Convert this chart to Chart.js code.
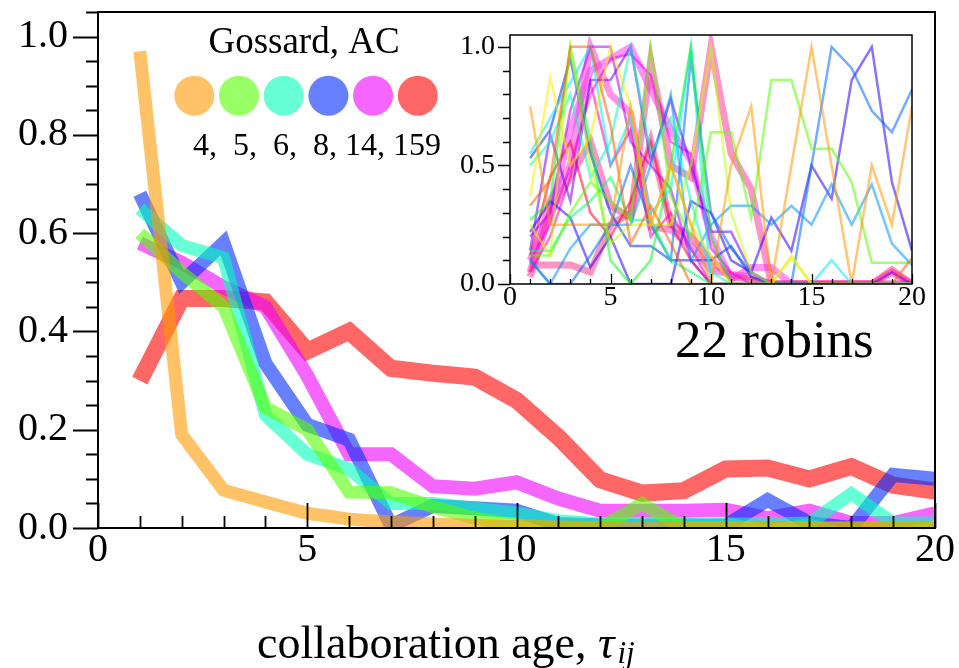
<!DOCTYPE html>
<html>
<head>
<meta charset="utf-8">
<script src="https://cdn.jsdelivr.net/npm/chart.js@4.4.1/dist/chart.umd.min.js"></script>
<style>
  html, body { margin: 0; padding: 0; background: #fff; }
  #wrap { position: relative; width: 959px; height: 668px; overflow: hidden; }
  #main { position: absolute; left: 0; top: 0; }
  #inset { position: absolute; left: 440px; top: 20px; }
</style>
</head>
<body>
<div id="wrap">
  <canvas id="main" width="959" height="668"></canvas>
  <canvas id="inset" width="490" height="300"></canvas>
</div>
<script>
// ---- main panel: share of collaborations by age, Gossard AC groups ----
const ages = [1,2,3,4,5,6,7,8,9,10,11,12,13,14,15,16,17,18,19,20];
const groupSizes = ['4', '5', '6', '8', '14', '159'];
const share4   = [0.97,0.19,0.077,0.053,0.03,0.018,0.012,0.008,0.005,0.003,0.002,0.001,0,0,0,0,0,0,0,0];
const share5   = [0.60,0.52,0.45,0.245,0.20,0.073,0.072,0.043,0.02,0.006,0,0,0.05,0,0,0,0,0,0,0];
const share6   = [0.65,0.575,0.55,0.23,0.15,0.12,0.05,0.05,0.04,0.03,0.015,0.008,0.008,0.008,0.008,0.008,0.01,0.07,0.01,0.01];
const share8   = [0.68,0.50,0.58,0.335,0.21,0.18,0.005,0.045,0.04,0.035,0.008,0.005,0.005,0.005,0.005,0.057,0.01,0,0.108,0.10];
const share14  = [0.58,0.54,0.49,0.45,0.31,0.15,0.15,0.085,0.08,0.093,0.06,0.035,0.035,0.035,0.037,0.02,0.035,0.01,0.01,0.03];
const share159 = [0.30,0.467,0.467,0.46,0.36,0.40,0.325,0.315,0.307,0.26,0.185,0.098,0.071,0.076,0.12,0.122,0.10,0.125,0.087,0.075];
const mainXTicks = [0, 5, 10, 15, 20];
const mainYTicks = [0, 0.2, 0.4, 0.6, 0.8, 1.0];
const legendTitle = 'Gossard, AC';
const legendCaption = '4,  5,  6,  8, 14, 159';
const robinCount = '22 robins';
const axisTitle = 'collaboration age, ';

// ---- inset: one line per robin ----
const r01 = [0.75,0.25,0.25,0.25,0.25,0.75,0.25,0.5,0.25,0,0.5,0.75,0,0.5,1,0.5,0,0.5,0.25,0.75];
const r02 = [0.33,0.44,1,1,0.67,0.17,0.33,0.17,0,0,0,0,0,0,0,0,0,0,0,0.11];
const r03 = [0.37,0.87,0.5,0.62,1,0.75,0.25,0.5,0.25,0.12,0,0,0,0.12,0,0,0,0,0,0];
const r04 = [0.25,0.12,1,0.5,0.17,0.25,0.25,0.25,0.5,1,0.3,0.05,0,0.11,0,0,0,0,0,0];
const r05 = [0.12,0.12,0.3,0.43,0.35,0.27,1,0.37,0.2,0.64,0.64,0.28,0.86,0.86,0.57,0.57,0.43,0.09,0.09,0.09];
const r06 = [0.27,0.35,1,0.6,0.1,0,0.1,0.5,1,0.2,0,0,0,0,0,0,0,0,0,0];
const r07 = [0.14,0.14,0.28,0.35,0.45,0.27,0.27,0.1,0.05,0,0,0,0,0,0,0,0,0,0,0];
const r08 = [0.5,0.6,0.8,0.45,0.6,1,0.55,0.7,0.35,0.05,0,0,0,0,0,0,0,0,0,0];
const r09 = [0.55,0.7,0.85,1,0.5,0.7,0.3,0.4,1,0,0,0,0,0,0,0.1,0,0,0,0];
const r10 = [0.1,0,0.15,0.25,0.25,0.25,0.5,0.8,0.1,0.25,0.33,0.33,0.25,0.33,0.25,0.42,0.25,0.42,0.17,0.08];
const r11 = [0.1,0,0,0.12,0.25,0.5,0.25,0.1,0.95,0.3,0.15,0.05,0,0,0.5,1,0.91,0.73,0.64,0.82];
const r12 = [0.53,0.65,0.95,0.55,0.3,0.16,0.16,0.1,0.1,0.1,0.16,0.03,0,0,0,0,0,0,0,0];
const r13 = [0.22,0.35,0.28,0.07,0.2,0,0,0,0.35,0.3,0.1,0.05,0.28,0.14,0.5,0.36,0.86,1,0.43,0.14];
const r14 = [0.14,0.63,0.35,0.86,0.86,1,0.52,0.78,0.5,0.22,0.22,0.05,0,0,0,0,0,0,0.05,0];
const r15 = [0.2,0.3,0.73,1,1,0.6,0.5,0.4,0.1,0,0,0,0,0,0,0,0,0,0,0];
const r16 = [0.1,0.25,0.5,0.8,0.95,0.97,0.88,0.6,0.55,0.15,0.05,0,0,0,0,0,0,0,0,0];
const r17 = [0.05,0.2,0.45,0.85,0.5,0.65,0.2,0.3,0.15,0,0,0,0,0,0,0,0,0,0,0];
const r18 = [0.12,0.45,0.6,0.3,0.2,0.35,0.6,0.25,0.1,0,0,0,0,0,0,0,0,0,0,0];
const r19 = [0.08,0.08,0.08,0.05,0.25,0.3,0.6,0.25,0.2,0.1,0.03,0.02,0,0,0,0,0,0,0.06,0];
const r20 = [0.03,0.3,0.45,0.6,0.33,0.28,0.94,0.5,0.45,1,0.55,0.4,0,0,0,0,0,0,0.05,0];
const r21 = [0.1,0.3,0.65,0.9,0.95,1,0.82,0.65,0.52,0.2,0.02,0.07,0.07,0,0,0,0,0,0,0];
const r22 = [0.05,0.35,0.5,1,0.8,0.72,0.24,0.23,0.16,0.06,0.04,0.03,0,0,0,0,0,0,0,0];
const insetXTicks = [0, 5, 10, 15, 20];
const insetYTicks = [0, 0.5, 1.0];

const robins = [r01,r02,r03,r04,r05,r06,r07,r08,r09,r10,r11,r12,r13,r14,r15,r16,r17,r18,r19,r20,r21,r22];
// line styling for the inset (hue in degrees, line width)
const robinHue   = [36, 22, 55, 75, 100, 125, 145, 165, 185, 205, 215, 228, 250, 268, 282, 295, 320, 350, 335, 330, 300, 315];
const robinWidth = [2.5,2.5,2.5,2.5,2.5,2.5,2.5,2.5,2.5,2.5,2.5,2.5,2.5,2.5,2.5,2.5,2.5,2.5, 7, 7, 7, 7];

const SERIF = "'Liberation Serif', 'Times New Roman', serif";
const groupColors = [
  'rgba(255,153,0,0.6)', 'rgba(85,255,0,0.6)', 'rgba(0,255,187,0.6)',
  'rgba(0,43,255,0.6)', 'rgba(238,0,255,0.6)', 'rgba(255,0,0,0.6)'
];
const groupWidths = [13, 13, 13, 14, 14, 17];
const groupShares = [share4, share5, share6, share8, share14, share159];

const toPoints = arr => arr.map((v, i) => ({ x: ages[i], y: v }));

// fixed axis box sizes, no extra room reserved for overhanging labels
const fixBox = size => s => {
  if (s.isHorizontal()) s.height = size; else s.width = size;
  s.paddingTop = 0; s.paddingBottom = 0; s.paddingLeft = 0; s.paddingRight = 0;
};

// frame plus hand-placed tick marks (outward on y, inward on x)
const axisFrame = {
  id: 'axisFrame',
  afterDatasetsDraw(chart, args, o) {
    const { ctx, chartArea: a, scales: { x, y } } = chart;
    ctx.save();
    ctx.strokeStyle = '#000';
    ctx.lineWidth = o.tickWidth;
    ctx.beginPath();
    const ny = Math.round(y.max / o.yMinor);
    for (let k = 0; k <= ny; k++) {
      const v = k * o.yMinor;
      if (v > y.max + 1e-9) break;
      const major = Math.abs(v / o.yMajor - Math.round(v / o.yMajor)) < 1e-6;
      const py = Math.round(y.getPixelForValue(v)) + 0.5;
      ctx.moveTo(a.left - (major ? o.yMajorLen : o.yMinorLen), py);
      ctx.lineTo(a.left, py);
    }
    for (let v = x.min; v <= x.max; v += o.xMinor) {
      const major = v % o.xMajor === 0;
      const px = Math.round(x.getPixelForValue(v)) + 0.5;
      ctx.moveTo(px, a.bottom);
      ctx.lineTo(px, a.bottom - (major ? o.xMajorLen : o.xMinorLen));
    }
    ctx.stroke();
    ctx.lineWidth = o.frameWidth;
    ctx.strokeRect(a.left, a.top, a.right - a.left, a.bottom - a.top);
    ctx.restore();
  }
};

// group legend, robin count and axis title of the main panel
const mainDecor = {
  id: 'mainDecor',
  afterDraw(chart) {
    const ctx = chart.ctx;
    ctx.save();
    ctx.fillStyle = '#000';
    ctx.textBaseline = 'alphabetic';
    ctx.textAlign = 'center';
    ctx.font = '37px ' + SERIF;
    ctx.fillText(legendTitle, 304, 53);
    groupColors.forEach((c, i) => {
      ctx.beginPath();
      ctx.arc(194.3 + 44.7 * i, 95.7, 20, 0, Math.PI * 2);
      ctx.fillStyle = c;
      ctx.fill();
    });
    ctx.fillStyle = '#000';
    ctx.textAlign = 'left';
    ctx.font = '32px ' + SERIF;
    ctx.fillText(legendCaption, 193, 155);
    ctx.font = '53px ' + SERIF;
    ctx.fillText(robinCount, 675, 357);
    // x-axis title with italic tau and subscript
    let tx = 257;
    ctx.font = '46px ' + SERIF;
    ctx.fillText(axisTitle, tx, 658);
    tx += ctx.measureText(axisTitle).width;
    ctx.font = 'italic 46px ' + SERIF;
    ctx.fillText('τ', tx, 658);
    tx += ctx.measureText('τ').width;
    ctx.font = 'italic 31px ' + SERIF;
    ctx.fillText('ij', tx + 3, 663);
    ctx.restore();
  }
};

new Chart(document.getElementById('main'), {
  type: 'line',
  data: {
    datasets: groupShares.map((s, i) => ({
      label: groupSizes[i],
      data: toPoints(s),
      borderColor: groupColors[i],
      borderWidth: groupWidths[i],
      pointRadius: 0,
      tension: 0,
      fill: false,
      clip: 0
    }))
  },
  options: {
    responsive: false,
    animation: false,
    devicePixelRatio: 1,
    events: [],
    layout: { padding: { left: 0, top: 12, right: 24, bottom: 0 } },
    plugins: {
      legend: { display: false }, tooltip: { enabled: false },
      axisFrame: { frameWidth: 2, tickWidth: 1.8, yMinor: 0.05, yMajor: 0.2, yMajorLen: 25, yMinorLen: 12,
                   xMinor: 1, xMajor: 5, xMajorLen: 25, xMinorLen: 12 }
    },
    scales: {
      x: {
        type: 'linear', min: 0, max: 20,
        afterBuildTicks: s => { s.ticks = mainXTicks.map(v => ({ value: v })); },
        afterFit: fixBox(140),
        grid: { display: false, drawTicks: false }, border: { display: false },
        ticks: { color: '#000', padding: 2, maxRotation: 0, autoSkip: false,
                 font: { family: SERIF, size: 40, lineHeight: 1 }, callback: v => String(v) }
      },
      y: {
        type: 'linear', min: 0, max: 1.05,
        afterBuildTicks: s => { s.ticks = mainYTicks.map(v => ({ value: v })); },
        afterFit: fixBox(98),
        grid: { display: false, drawTicks: false }, border: { display: false },
        ticks: { color: '#000', padding: 30, autoSkip: false,
                 font: { family: SERIF, size: 40, lineHeight: 1 }, callback: v => v.toFixed(1) }
      }
    }
  },
  plugins: [axisFrame, mainDecor]
});

new Chart(document.getElementById('inset'), {
  type: 'line',
  data: {
    datasets: robins.map((r, i) => ({
      label: 'robin ' + (i + 1),
      data: toPoints(r),
      borderColor: `hsla(${robinHue[i]},100%,${robinWidth[i] > 3 ? 58 : 50}%,${robinWidth[i] > 3 ? 0.5 : 0.55})`,
      borderWidth: robinWidth[i],
      pointRadius: 0,
      tension: 0,
      fill: false,
      clip: 0
    }))
  },
  options: {
    responsive: false,
    animation: false,
    devicePixelRatio: 1,
    events: [],
    layout: { padding: { left: 0, top: 15, right: 18, bottom: 0 } },
    plugins: {
      legend: { display: false }, tooltip: { enabled: false },
      axisFrame: { frameWidth: 1.5, tickWidth: 1.3, yMinor: 0.1, yMajor: 0.5, yMajorLen: 12, yMinorLen: 7,
                   xMinor: 1, xMajor: 5, xMajorLen: 10, xMinorLen: 5 }
    },
    scales: {
      x: {
        type: 'linear', min: 0, max: 20,
        afterBuildTicks: s => { s.ticks = insetXTicks.map(v => ({ value: v })); },
        afterFit: fixBox(36),
        grid: { display: false, drawTicks: false }, border: { display: false },
        ticks: { color: '#000', padding: 0, maxRotation: 0, autoSkip: false,
                 font: { family: SERIF, size: 28, lineHeight: 1 }, callback: v => String(v) }
      },
      y: {
        type: 'linear', min: 0, max: 1.05,
        afterBuildTicks: s => { s.ticks = insetYTicks.map(v => ({ value: v })); },
        afterFit: fixBox(70),
        grid: { display: false, drawTicks: false }, border: { display: false },
        ticks: { color: '#000', padding: 15, autoSkip: false,
                 font: { family: SERIF, size: 28, lineHeight: 1 }, callback: v => v.toFixed(1) }
      }
    }
  },
  plugins: [axisFrame]
});
</script>
</body>
</html>
